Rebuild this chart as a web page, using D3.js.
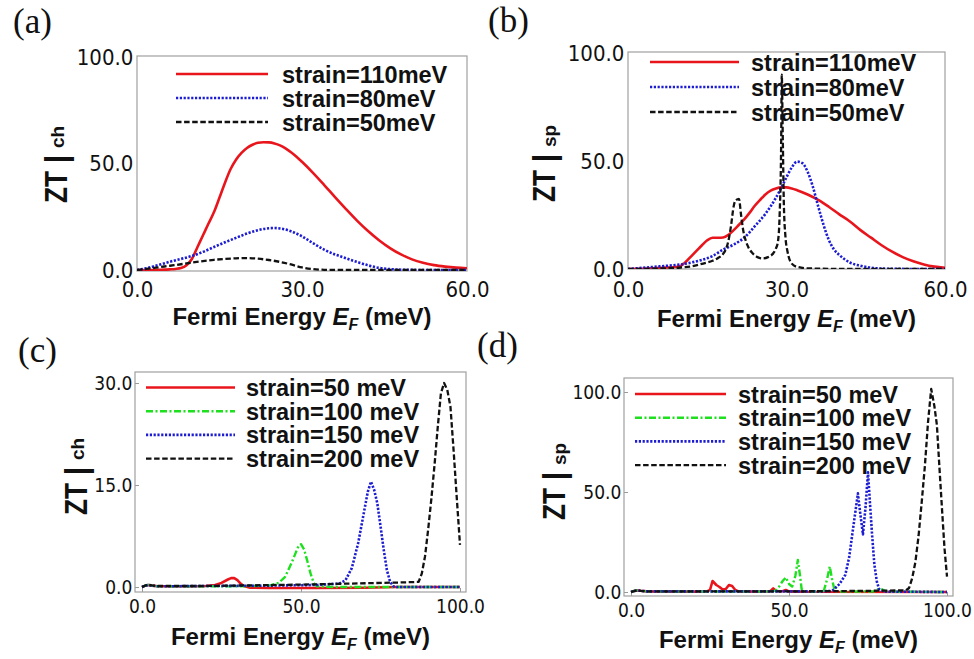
<!DOCTYPE html>
<html>
<head>
<meta charset="utf-8">
<script src="https://cdn.jsdelivr.net/npm/d3@7"></script>
<style>
  html, body { margin: 0; padding: 0; background: #fff; }
  svg { display: block; }
</style>
</head>
<body>
<svg id="fig" width="974" height="659"></svg>
<script>
// ---- data: ZT versus Fermi energy E_F (meV) ----
// (a) charge ZT, three strains
const chA110 = [[0,0],[2,0],[4,0.1],[6,0.3],[7,0.5],[8,0.9],[9,2.2],[10,5.3],[11,10.8],[12,16.3],[13,21.8],[14,27.2],[15,34],[16,41],[17,47.3],[18,51.8],[19,55],[20,57.3],[21,58.8],[22,59.7],[23,60],[24,59.9],[25,59.4],[26,58.5],[27,57.1],[28,55.3],[29,53.2],[30,50.8],[32,45.6],[34,40],[36,34.2],[38,28.6],[40,23.2],[42,18.3],[44,14],[46,10.3],[48,7.3],[50,5],[52,3.4],[54,2.3],[56,1.6],[58,1.1],[60,0.8]];
const chA80 = [[0,0],[2,1],[4,2.4],[6,3.9],[8,5.2],[10,6.6],[12,8.5],[14,10.8],[16,13],[18,15.1],[20,17.1],[22,18.7],[24,19.6],[25,19.7],[26,19.5],[28,18.2],[30,15.8],[32,12.6],[34,9.6],[36,7.3],[38,5.5],[40,3.8],[42,2.2],[44,1],[46,0.4],[48,0.15],[50,0.05],[55,0],[60,0]];
const chA50 = [[0,0],[2,0.6],[4,1.3],[6,2],[8,2.7],[10,3.5],[12,4.2],[14,4.8],[16,5.2],[18,5.5],[20,5.6],[22,5.3],[24,4.7],[26,3.8],[28,2.6],[30,1.2],[32,0.4],[34,0.1],[36,0],[60,0]];

// (b) spin ZT, three strains
const spB110 = [[0,0],[2,0.1],[4,0.3],[6,0.5],[8,0.8],[9,0.9],[10,1.5],[11,3.5],[12,6],[13,8.5],[14,11],[15,13.3],[16,14.5],[17,14.5],[18,14.6],[19,15.8],[20,18],[21,20.5],[22,23],[23,26],[24,29.3],[25,32],[26,34.5],[27,36.3],[28,37.3],[29,37.8],[30,37.8],[31,37.3],[32,36.5],[34,34.5],[36,32],[38,28.8],[40,25.3],[42,22],[44,18],[46,14.5],[48,11],[50,8],[52,5.5],[54,3.6],[56,2.1],[58,1.1],[60,0.5]];
const spB80 = [[0,0],[2,0.4],[4,0.8],[6,1.2],[8,1.6],[10,2.1],[12,3],[14,4.2],[16,6],[18,9],[20,11.3],[22,14.5],[24,19.8],[26,25.5],[28,33],[29,37.5],[30,42.5],[31,47],[32,49.7],[33,49],[34,45],[35,38],[36,29],[37,20.5],[38,13.5],[39,9],[40,6.5],[41,4.5],[42,3],[44,1.5],[46,0.6],[48,0.2],[50,0.1],[55,0],[60,0]];
const spB50 = [[0,0],[4,0.1],[8,0.4],[10,0.7],[12,1.2],[14,2.4],[16,3.8],[17,5],[18,7],[18.5,9],[19,13],[19.5,20],[20,29],[20.3,31.5],[21,32.5],[21.4,25],[21.8,18],[22.3,13],[22.8,10],[23.5,7.5],[24.5,5.5],[25.5,4.9],[26.5,5.5],[27.5,7.3],[28,9.5],[28.4,13],[28.7,25],[29,60],[29.1,90],[29.3,60],[29.5,30],[29.8,15],[30.2,8],[31,2.5],[32,1],[34,0.3],[38,0.1],[45,0],[60,0]];

// (c) charge ZT, four strains
const chC50 = [[0,0],[1,0.2],[2,0.3],[3,0.2],[5,0.1],[15,0.1],[20,0.15],[23,0.3],[25,0.6],[27,1.1],[28,1.3],[29,1.3],[30,1],[31,0.5],[32,0.15],[34,-0.1],[40,-0.15],[55,-0.15],[70,-0.1],[80,0],[100,0]];
const chC100 = [[0,0],[1,0.2],[2,0.3],[3,0.2],[5,0.1],[30,0.1],[40,0.2],[43,0.6],[45,1.5],[47,3.5],[49,5.8],[50,6.3],[51,5.5],[52,3.8],[53,2],[54,0.6],[55,0.1],[60,0],[100,0]];
const chC150 = [[0,0],[1,0.2],[2,0.3],[3,0.2],[5,0.1],[40,0.2],[55,0.3],[62,0.5],[64,1],[66,2.8],[68,6.5],[70,11.5],[71,14],[72,15.5],[73,14.3],[74,12.3],[75,9],[76,5.5],[77,2.5],[78,0.8],[79,0.1],[80,0],[100,0]];
const chC200 = [[0,0],[1,0.2],[2,0.35],[3,0.25],[5,0.15],[20,0.15],[35,0.25],[50,0.35],[65,0.5],[80,0.65],[87,0.75],[88,2],[89,4.5],[90,8.5],[91,13],[92,18],[93,23.5],[94,28.5],[95,30],[96,29],[97,26.5],[98,20],[99,13],[100,6.2]];

// (d) spin ZT, four strains
const spD50 = [[0,0],[1,0.5],[2,0.8],[3,0.6],[5,0.3],[20,0.2],[24,0.3],[25,1],[25.8,5.5],[27,3.5],[28,2.5],[29,1.2],[30,1.5],[31,3.5],[32,3],[33,1],[34,0.3],[40,0.2],[44,0.3],[45,1.8],[46,0.5],[48,0.4],[49,1],[50,0.3],[55,0.1],[100,0]];
const spD100 = [[0,0],[1,0.5],[2,0.8],[3,0.6],[5,0.3],[40,0.2],[45,0.3],[46,1],[47,3],[48,5.5],[49,7.3],[50,4],[51,2.7],[52,8],[52.8,16],[53.5,8],[54,1.5],[55,0.3],[60,0.2],[61,0.5],[62,6],[62.9,12.7],[63.8,5],[64.5,0.5],[66,0.2],[77,0.3],[78,1.2],[79,1.8],[80,0.8],[81,0.2],[100,0]];
const spD150 = [[0,0],[1,0.5],[2,0.8],[3,0.6],[5,0.3],[60,0.3],[63,0.5],[64,1],[66,4],[67.8,8.5],[69,17],[70,28.5],[71,40],[71.8,49.3],[72.5,40],[73.4,28.8],[74.2,42],[75,59.8],[75.6,45],[76.3,28.5],[77,14],[77.8,5.2],[78.5,1.5],[80,0.2],[100,0]];
const spD200 = [[0,0],[1,0.5],[2,0.8],[3,0.6],[5,0.3],[50,0.3],[70,0.5],[87,0.8],[88,2],[89,7],[90,15],[91,28],[92,45],[93,63],[94,85],[95,101.5],[96,93],[96.8,83.5],[97.5,65],[98.4,42],[99.2,22],[100,7.7]];

// tick values and labels
const ticksX60 = [0, 30, 60];
const ticksX100 = [0, 50, 100];
const ticksY100 = [0, 50, 100];
const ticksY30 = [0, 15, 30];
const legendTop = ["strain=110meV", "strain=80meV", "strain=50meV"];
const legendBottom = ["strain=50 meV", "strain=100 meV", "strain=150 meV", "strain=200 meV"];
const panelTags = ["(a)", "(b)", "(c)", "(d)"];

// ---- line styles ----
const STY = {
  red:   { stroke: "#e8161c", width: 2.6, dash: null },
  blue:  { stroke: "#1c1cd2", width: 2.6, dash: "2.2,1.6" },
  black: { stroke: "#111111", width: 2.3, dash: "5.5,2.6" },
  green: { stroke: "#1ee01e", width: 2.4, dash: "7,2.5,2,2.5" }
};

const panels = [
  { tag: panelTags[0], tagPos: [13, 33],
    frame: { l: 137, r: 467, t: 56, b: 271 },
    xd: [0, 60], xr: [137, 467], yd: [0, 100], yr: [270, 57],
    xt: ticksX60, yt: ticksY100, tickFont: 22, xPad: 10.4, yPad: 4, innerTick: 0,
    smooth: true,
    series: [[chA110, "red"], [chA80, "blue"], [chA50, "black"]], labels: legendTop,
    leg: { x0: 176, x1: 268, tx: 282, y0: 74, dy: 24 },
    ylab: { bx: 67, sy: 203, sub: "ch" }, xlab: { y: 325 } },
  { tag: panelTags[1], tagPos: [488, 32],
    frame: { l: 628, r: 945, t: 52, b: 269 },
    xd: [0, 60], xr: [628, 945], yd: [0, 100], yr: [269, 53],
    xt: ticksX60, yt: ticksY100, tickFont: 22, xPad: 12.4, yPad: 4, innerTick: 0,
    smooth: true,
    series: [[spB110, "red"], [spB80, "blue"], [spB50, "black"]], labels: legendTop,
    leg: { x0: 650, x1: 739, tx: 751, y0: 62, dy: 25 },
    ylab: { bx: 555, sy: 202, sub: "sp" }, xlab: { y: 327 } },
  { tag: panelTags[2], tagPos: [18, 362],
    frame: { l: 135, r: 466, t: 372, b: 592 },
    xd: [0, 100], xr: [142, 460], yd: [0, 30], yr: [587, 383],
    xt: ticksX100, yt: ticksY30, tickFont: 19, xPad: 7.5, yPad: 3, innerTick: 4,
    smooth: false,
    series: [[chC50, "red"], [chC100, "green"], [chC150, "blue"], [chC200, "black"]], labels: legendBottom,
    leg: { x0: 146, x1: 235, tx: 246, y0: 387.5, dy: 23.7 },
    ylab: { bx: 87, sy: 515, sub: "ch" }, xlab: { y: 645 } },
  { tag: panelTags[3], tagPos: [477, 357],
    frame: { l: 624, r: 953, t: 378, b: 596 },
    xd: [0, 100], xr: [631, 947], yd: [0, 100], yr: [592, 392],
    xt: ticksX100, yt: ticksY100, tickFont: 19, xPad: 7.5, yPad: 3, innerTick: 4,
    smooth: false,
    series: [[spD50, "red"], [spD100, "green"], [spD150, "blue"], [spD200, "black"]], labels: legendBottom,
    leg: { x0: 635, x1: 726, tx: 738, y0: 394, dy: 23.7 },
    ylab: { bx: 565, sy: 520, sub: "sp" }, xlab: { y: 648 } }
];

const svg = d3.select("#fig");
const fmt = d3.format(".1f");
const TICK_FONT = "'DejaVu Sans', sans-serif";
const LABEL_FONT = "'Liberation Sans', Arial, sans-serif";

panels.forEach((p, i) => {
  const g = svg.append("g");
  const x = d3.scaleLinear().domain(p.xd).range(p.xr);
  const y = d3.scaleLinear().domain(p.yd).range(p.yr);
  const f = p.frame;

  // panel tag
  g.append("text").attr("x", p.tagPos[0]).attr("y", p.tagPos[1])
    .attr("font-family", "'Liberation Serif', 'Times New Roman', serif")
    .attr("font-size", 35).attr("fill", "#111").text(p.tag);

  // clipping region = plot frame
  const clipId = "clip" + i;
  g.append("clipPath").attr("id", clipId).append("rect")
    .attr("x", f.l).attr("y", f.t).attr("width", f.r - f.l).attr("height", f.b - f.t);

  // axes
  const ax = d3.axisBottom(x).tickValues(p.xt).tickFormat(fmt)
    .tickSizeInner(-p.innerTick).tickSizeOuter(0).tickPadding(p.xPad);
  const ay = d3.axisLeft(y).tickValues(p.yt).tickFormat(fmt)
    .tickSizeInner(-p.innerTick).tickSizeOuter(0).tickPadding(p.yPad);

  const gx = g.append("g").attr("transform", `translate(0,${f.b})`).call(ax);
  const gy = g.append("g").attr("transform", `translate(${f.l},0)`).call(ay);
  [gx, gy].forEach(a => {
    a.select(".domain").remove();
    a.selectAll(".tick line").attr("stroke", "#999").attr("stroke-width", 1);
    a.selectAll(".tick text")
      .attr("font-family", TICK_FONT).attr("font-size", p.tickFont)
      .attr("fill", "#111")
      .attr("transform", "scale(0.9,1)");
  });

  // frame
  g.append("rect").attr("x", f.l).attr("y", f.t)
    .attr("width", f.r - f.l).attr("height", f.b - f.t)
    .attr("fill", "none").attr("stroke", "#a0a0a0").attr("stroke-width", 1.2);

  // curves
  const line = d3.line().x(d => x(d[0])).y(d => y(d[1]))
    .curve(p.smooth ? d3.curveMonotoneX : d3.curveLinear);
  const plot = g.append("g").attr("clip-path", `url(#${clipId})`);
  p.series.forEach(([data, key]) => {
    const s = STY[key];
    plot.append("path").datum(data).attr("d", line)
      .attr("fill", "none").attr("stroke", s.stroke)
      .attr("stroke-width", s.width)
      .attr("stroke-dasharray", s.dash)
      .attr("stroke-linejoin", "round");
  });

  // legend
  const lg = g.append("g");
  p.series.forEach(([data, key], k) => {
    const s = STY[key];
    const yy = p.leg.y0 + k * p.leg.dy;
    lg.append("line").attr("x1", p.leg.x0).attr("x2", p.leg.x1)
      .attr("y1", yy).attr("y2", yy)
      .attr("stroke", s.stroke).attr("stroke-width", s.width)
      .attr("stroke-dasharray", s.dash);
    lg.append("text").attr("x", p.leg.tx).attr("y", yy + 8.5)
      .attr("font-family", LABEL_FONT).attr("font-weight", "bold")
      .attr("font-size", 23.5).attr("fill", "#111").text(p.labels[k]);
  });

  // x label: Fermi Energy E_F (meV)
  const xl = g.append("text")
    .attr("x", (f.l + f.r) / 2).attr("y", p.xlab.y)
    .attr("text-anchor", "middle")
    .attr("font-family", LABEL_FONT).attr("font-weight", "bold")
    .attr("font-size", 24).attr("fill", "#111");
  xl.append("tspan").text("Fermi Energy ");
  xl.append("tspan").attr("font-style", "italic").text("E");
  xl.append("tspan").attr("font-style", "italic").attr("font-size", 16)
    .attr("dy", 5).text("F");
  xl.append("tspan").attr("dy", -5).text(" (meV)");

  // y label: ZT|ch or ZT|sp, reading upward
  const yl = g.append("g")
    .attr("transform", `translate(${p.ylab.bx},${p.ylab.sy}) rotate(-90)`);
  yl.append("text").attr("transform", "scale(0.82,1)")
    .attr("font-family", LABEL_FONT).attr("font-weight", "bold")
    .attr("font-size", 32).attr("fill", "#111").text("ZT");
  yl.append("text").attr("x", 44).attr("y", 0).attr("text-anchor", "middle")
    .attr("font-family", LABEL_FONT).attr("font-weight", "bold")
    .attr("font-size", 32).attr("fill", "#111").text("|");
  yl.append("text").attr("x", 55).attr("y", p.ylab.sub === "ch" ? -3 : 1)
    .attr("font-family", LABEL_FONT).attr("font-weight", "bold")
    .attr("font-size", 19).attr("fill", "#111").text(p.ylab.sub);
});
</script>
</body>
</html>
